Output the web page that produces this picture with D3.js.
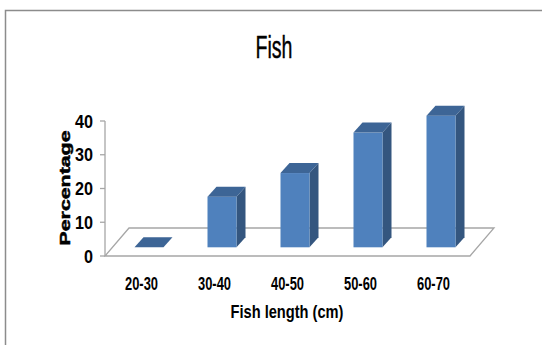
<!DOCTYPE html>
<html>
<head>
<meta charset="utf-8">
<script src="https://cdn.jsdelivr.net/npm/d3@7"></script>
<style>
	body { margin: 0; background: #fff; }
	text { font-family: "Liberation Sans", Arial, sans-serif; fill: #000; }
</style>
</head>
<body>
<svg id="svg_fish" width="542" height="345"></svg>
<script>
var categories = ["20-30", "30-40", "40-50", "50-60", "60-70"];
var values = [0, 15, 22, 34, 39];
var yTicks = [0, 10, 20, 30, 40];

var svg = d3.select("#svg_fish"),
	margin = { top: 121, left: 105, right: 72, bottom: 89 },
	width = +svg.attr("width"),
	height = +svg.attr("height");

// floor depth and bar depth (oblique projection)
var floorDepth = { x: 24, y: -28 },
	barShift = { x: 7.5, y: -8.7 },
	barDepth = { x: 9, y: -10 },
	barWidth = 29;

var x = d3.scaleBand()
	.domain(categories)
	.range([margin.left, width - margin.right]);

var y = d3.scaleLinear()
	.domain([0, 40])
	.range([height - margin.bottom, margin.top]);

// chart frame
svg.append("path")
	.attr("d", "M5.5," + (height + 2) + "V10.5H" + (width + 2))
	.attr("fill", "none")
	.attr("stroke", "#8c8c8c")
	.attr("stroke-width", 1.5);

// title
svg.append("text")
	.attr("x", 274).attr("y", 58)
	.attr("text-anchor", "middle")
	.attr("font-size", 31)
	.attr("stroke", "#000").attr("stroke-width", 0.4)
	.attr("textLength", 37)
	.attr("lengthAdjust", "spacingAndGlyphs")
	.text("Fish");

// floor
var y0 = y(0), x0 = x.range()[0], x1 = x.range()[1];
svg.append("polygon")
	.attr("points", [
		[x0, y0], [x1, y0],
		[x1 + floorDepth.x, y0 + floorDepth.y],
		[x0 + floorDepth.x, y0 + floorDepth.y]
	].map(function(p) { return p.join(","); }).join(" "))
	.attr("fill", "#fff")
	.attr("stroke", "#a6a6a6")
	.attr("stroke-width", 1.3);

// value axis
var g_axis = svg.append("g").attr("id", "y_axis");
g_axis.append("line")
	.attr("x1", x0).attr("x2", x0)
	.attr("y1", y(40)).attr("y2", y0)
	.attr("stroke", "#a6a6a6").attr("stroke-width", 1.3);
g_axis.selectAll(".tick").data(yTicks).enter()
	.append("line")
	.attr("class", "tick")
	.attr("x1", x0 - 5).attr("x2", x0)
	.attr("y1", function(d) { return y(d); })
	.attr("y2", function(d) { return y(d); })
	.attr("stroke", "#a6a6a6").attr("stroke-width", 1.3);
g_axis.selectAll(".lbl").data(yTicks).enter()
	.append("text")
	.attr("class", "lbl")
	.attr("x", 93)
	.attr("y", function(d) { return y(d) + 6.5; })
	.attr("text-anchor", "end")
	.attr("font-size", 18)
	.attr("font-weight", "bold")
	.attr("textLength", function(d) { return d == 0 ? 9 : 18; })
	.attr("lengthAdjust", "spacingAndGlyphs")
	.text(function(d) { return d; });

// bars
var g_bar = svg.append("g").attr("id", "bars");
var data = categories.map(function(c, i) { return { cat: c, value: values[i] }; });

function pts(arr) {
	return arr.map(function(p) { return p.join(","); }).join(" ");
}

data.forEach(function(d) {
	var left = x(d.cat) + (x.bandwidth() - barWidth) / 2 + barShift.x,
		right = left + barWidth,
		bottom = y(0) + barShift.y,
		top = y(d.value) + barShift.y;
	if (d.value > 0) {
		g_bar.append("polygon")
			.attr("points", pts([[right, bottom], [right + barDepth.x, bottom + barDepth.y],
				[right + barDepth.x, top + barDepth.y], [right, top]]))
			.attr("fill", "#34567f");
		g_bar.append("rect")
			.attr("x", left).attr("y", top)
			.attr("width", barWidth).attr("height", bottom - top)
			.attr("fill", "#4f81bd");
	}
	g_bar.append("polygon")
		.attr("points", pts([[left, top], [right, top],
			[right + barDepth.x, top + barDepth.y], [left + barDepth.x, top + barDepth.y]]))
		.attr("fill", "#3d6596");
});

// category labels
svg.selectAll(".cat").data(categories).enter()
	.append("text")
	.attr("class", "cat")
	.attr("x", function(d) { return x(d) + x.bandwidth() / 2; })
	.attr("y", 289.5)
	.attr("text-anchor", "middle")
	.attr("font-size", 18)
	.attr("font-weight", "bold")
	.attr("textLength", 33)
	.attr("lengthAdjust", "spacingAndGlyphs")
	.text(function(d) { return d; });

// axis titles
svg.append("text")
	.attr("x", 287).attr("y", 318)
	.attr("text-anchor", "middle")
	.attr("font-size", 19)
	.attr("font-weight", "bold")
	.attr("textLength", 113)
	.attr("lengthAdjust", "spacingAndGlyphs")
	.text("Fish length (cm)");

svg.append("text")
	.attr("transform", "translate(69.5,188) rotate(-90)")
	.attr("text-anchor", "middle")
	.attr("font-size", 15)
	.attr("font-weight", "bold")
	.attr("stroke", "#000").attr("stroke-width", 0.5)
	.attr("textLength", 115)
	.attr("lengthAdjust", "spacingAndGlyphs")
	.text("Percentage");
</script>
</body>
</html>
